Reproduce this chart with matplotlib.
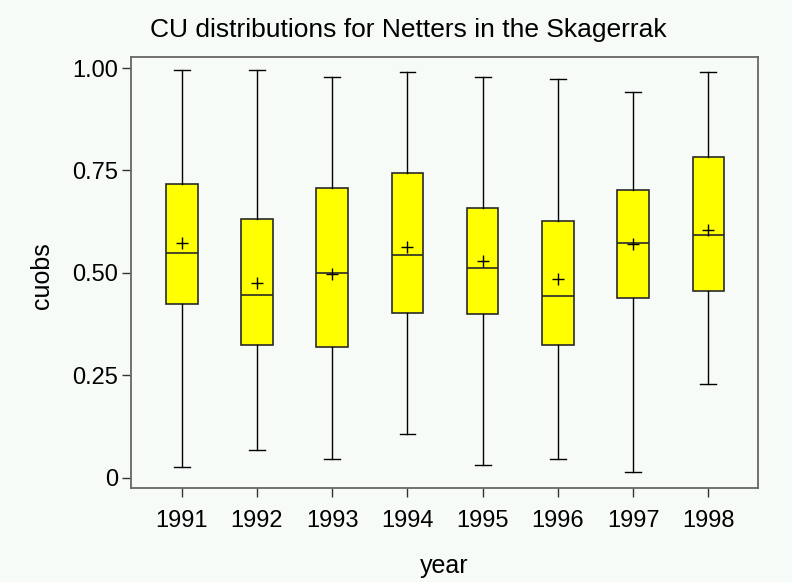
import matplotlib
matplotlib.use("Agg")
import matplotlib.pyplot as plt

years = ["1991", "1992", "1993", "1994", "1995", "1996", "1997", "1998"]
whislo = [0.027, 0.067, 0.046, 0.106, 0.032, 0.046, 0.014, 0.229]
q1     = [0.423, 0.323, 0.320, 0.402, 0.400, 0.323, 0.438, 0.455]
med    = [0.549, 0.445, 0.499, 0.544, 0.513, 0.443, 0.573, 0.592]
mean   = [0.573, 0.474, 0.497, 0.563, 0.529, 0.486, 0.570, 0.605]
q3     = [0.717, 0.632, 0.708, 0.744, 0.659, 0.627, 0.702, 0.782]
whishi = [0.995, 0.996, 0.977, 0.990, 0.977, 0.974, 0.941, 0.991]

yticks = [0, 0.25, 0.50, 0.75, 1.00]
ytick_labels = ["0", "0.25", "0.50", "0.75", "1.00"]

plt.rcParams["font.family"] = ["Liberation Sans", "DejaVu Sans"]

bg = "#F7FBF8"
fig = plt.figure(figsize=(7.92, 5.82), dpi=100, facecolor=bg)
ax = fig.add_axes([131/792, 1-488/582, (758-131)/792, (488-57)/582])
ax.set_facecolor(bg)

stats = []
for i in range(len(years)):
    stats.append(dict(label=years[i], whislo=whislo[i], q1=q1[i], med=med[i],
                      mean=mean[i], q3=q3[i], whishi=whishi[i], fliers=[]))

ax.bxp(stats, positions=range(len(years)), widths=0.42, showmeans=True,
       patch_artist=True, capwidths=0.21,
       boxprops=dict(facecolor="#FFFF00", edgecolor="#2a2a2a", linewidth=1.2),
       medianprops=dict(color="#2a2a2a", linewidth=1.2),
       whiskerprops=dict(color="black", linewidth=1.0),
       capprops=dict(color="black", linewidth=1.0),
       meanprops=dict(marker="+", markeredgecolor="black", markersize=8,
                      markeredgewidth=1.0))

ax.set_xlim(-0.674, 7.66)
ax.set_ylim(-0.0253, 1.027)
ax.set_yticks(yticks)
ax.set_yticklabels(ytick_labels)
ax.set_xticks(range(len(years)))
ax.set_xticklabels(years)

for s in ax.spines.values():
    s.set_color("#666666")
    s.set_linewidth(1.3)

ax.tick_params(axis="both", direction="out", length=6.5, width=1.0,
               color="#333333", labelsize=17, labelcolor="black")
ax.tick_params(axis="y", pad=3)
ax.tick_params(axis="x", pad=9)

fig.text(408/792, 1-36.7/582, "CU distributions for Netters in the Skagerrak",
         ha="center", va="baseline", fontsize=19)
fig.text(42/792, 1-276/582, "cuobs", rotation=90, ha="center", va="center",
         fontsize=18)
fig.text(444/792, 1-573/582, "year", ha="center", va="baseline", fontsize=18)

fig.savefig("out.png", dpi=100, facecolor=bg)
